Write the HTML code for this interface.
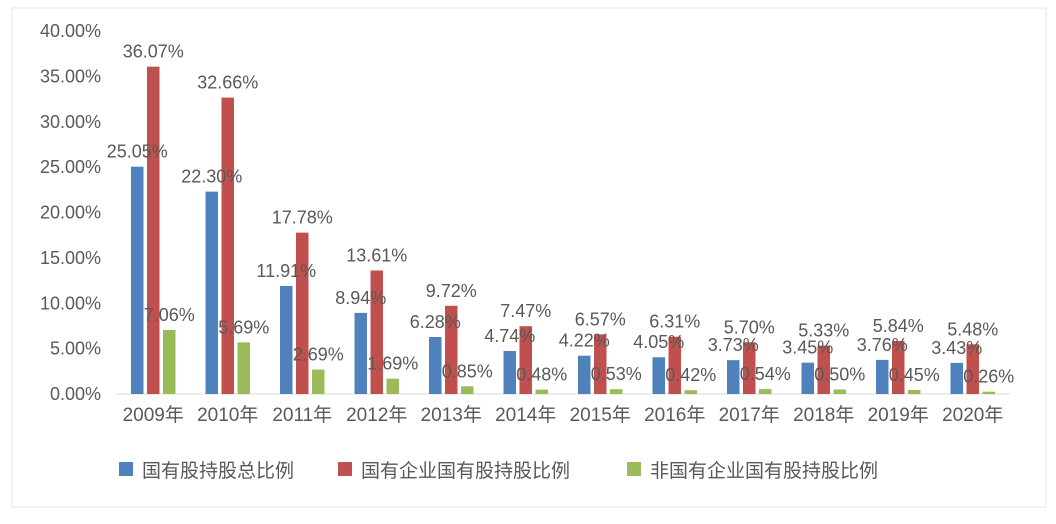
<!DOCTYPE html>
<html><head><meta charset="utf-8"><style>
body{margin:0;background:#fff;}
svg text{font-family:"Liberation Sans","Noto Sans CJK SC",sans-serif;fill:#595959;}
</style></head><body>
<svg width="1056" height="519" xmlns="http://www.w3.org/2000/svg">
<rect x="12" y="8" width="1034" height="499" fill="#fff" stroke="#eeeeee" stroke-width="1.5"/>
<g id="grid"></g><g id="bars"></g><g id="labels"></g>
<g>
<rect x="119" y="462" width="14" height="14" fill="#4f81bd"/>
<text x="142" y="477" font-size="19">国有股持股总比例</text>
<rect x="338" y="462" width="14" height="14" fill="#c0504d"/>
<text x="361" y="477" font-size="19">国有企业国有股持股比例</text>
<rect x="627" y="462" width="14" height="14" fill="#9bbb59"/>
<text x="650" y="477" font-size="19">非国有企业国有股持股比例</text>
</g>
</svg>
<script>
const categories=["2009年","2010年","2011年","2012年","2013年","2014年","2015年","2016年","2017年","2018年","2019年","2020年"];
const totalShare=[25.05,22.30,11.91,8.94,6.28,4.74,4.22,4.05,3.73,3.45,3.76,3.43];
const soeShare=[36.07,32.66,17.78,13.61,9.72,7.47,6.57,6.31,5.70,5.33,5.84,5.48];
const nonSoeShare=[7.06,5.69,2.69,1.69,0.85,0.48,0.53,0.42,0.54,0.50,0.45,0.26];
const yTicks=[0,5,10,15,20,25,30,35,40];
const NS="http://www.w3.org/2000/svg";
const x0=116,x1=1010,y0=394,yTop=31,yMax=40;
const gw=(x1-x0)/categories.length;
const y=v=>y0-(v/yMax)*(y0-yTop);
function mk(tag,attrs,parent){const e=document.createElementNS(NS,tag);for(const k in attrs)e.setAttribute(k,attrs[k]);parent.appendChild(e);return e;}
const grid=document.getElementById('grid'),bars=document.getElementById('bars'),labels=document.getElementById('labels');
yTicks.forEach(t=>{const tx=mk('text',{x:101,y:y(t)+6,'font-size':18,'text-anchor':'end'},grid);tx.textContent=t.toFixed(2)+'%';

});
const ax=mk('line',{x1:x0,x2:x1,y1:y0,y2:y0,stroke:'#d9d9d9','stroke-width':1},grid);


const series=[[totalShare,'#4f81bd','total'],[soeShare,'#c0504d','soe'],[nonSoeShare,'#9bbb59','nonsoe']];
const bw=12.5,gap=3.5;
categories.forEach((c,i)=>{
 const cx=x0+gw*(i+0.5);
 series.forEach((s,j)=>{
  const bx=cx-bw*1.5-gap+j*(bw+gap);
  const v=s[0][i];
  const r=mk('rect',{x:bx,y:y(v),width:bw,height:y0-y(v),fill:s[1]},bars);
  
  
  const t=mk('text',{x:bx+bw/2,y:y(v)-9,'font-size':18,'text-anchor':'middle'},labels);
  t.textContent=v.toFixed(2)+'%';
  
  
 });
 const xl=mk('text',{x:cx,y:421,'font-size':19,'text-anchor':'middle'},grid);
 xl.textContent=c;
 
 
});
</script>
</body></html>
